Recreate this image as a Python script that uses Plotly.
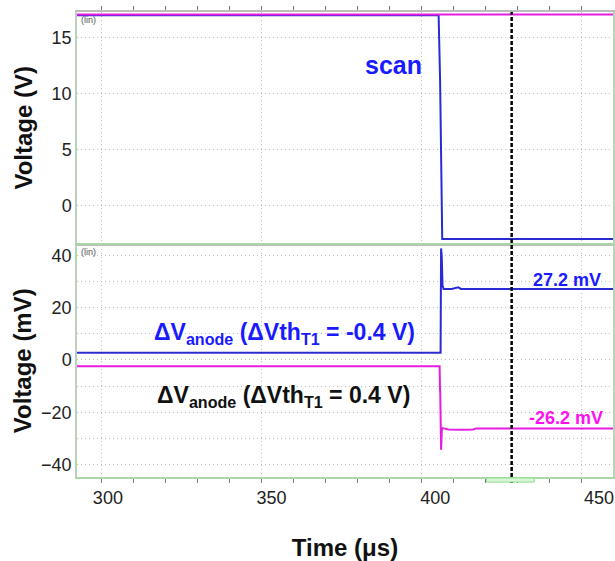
import plotly.graph_objects as go

# ---------------- data ----------------
# top panel: scan signal (V) and the constant reference level (V)
scan_t = [290.5, 401.0, 401.45, 401.75, 402.0, 402.1, 454.5]
scan_v = [17.0, 17.0, 11.2, 6.0, 0.5, -2.95, -2.95]
ref_t = [290.5, 454.5]
ref_v = [17.05, 17.05]

# bottom panel: anode voltage change (mV)
neg_t = [290.5, 401.6, 401.75, 401.95, 402.2, 402.5, 405.0, 406.5, 407.0, 407.8, 454.5]
neg_v = [2.8, 2.8, 42.7, 40.0, 28.5, 27.2, 27.2, 27.6, 27.8, 27.2, 27.2]
pos_t = [290.5, 401.3, 401.4, 401.5, 401.75, 401.85, 402.0, 402.3, 404.0, 408.0, 411.5, 412.5, 454.5]
pos_v = [-2.4, -2.4, -10.0, -12.6, -34.4, -30.0, -26.1, -26.1, -26.6, -26.7, -26.6, -26.2, -26.2]

x_tickvals = [300, 350, 400, 450]
top_tickvals = [0, 5, 10, 15]
bot_tickvals = [-40, -20, 0, 20, 40]
cursor_t = 423.3
marker_t = [415.6, 430.2]

# ---------------- styles ----------------
FONT = "Liberation Sans, Arial, sans-serif"
BLUE_L = "#2b2bd4"
MAG_L = "#e61ce0"
BLUE_T = "#1a1aff"
MAG_T = "#ff10f0"
GRID = "#bdbdbd"
GDASH = "1px,3px"
XR = [290.57, 454.25]
grid_tick0 = 298.0
grid_dtick = 48.85
minor_dtick = 9.77

fig = go.Figure()
fig.add_trace(go.Scatter(x=scan_t, y=scan_v, mode="lines", line=dict(color=BLUE_L, width=2),
                         xaxis="x", yaxis="y", showlegend=False))
fig.add_trace(go.Scatter(x=ref_t, y=ref_v, mode="lines", line=dict(color=MAG_L, width=2),
                         xaxis="x", yaxis="y", showlegend=False))
fig.add_trace(go.Scatter(x=neg_t, y=neg_v, mode="lines", line=dict(color=BLUE_L, width=2),
                         xaxis="x2", yaxis="y2", showlegend=False))
fig.add_trace(go.Scatter(x=pos_t, y=pos_v, mode="lines", line=dict(color=MAG_L, width=2),
                         xaxis="x2", yaxis="y2", showlegend=False))
fig.add_trace(go.Scatter(x=[], y=[], mode="lines", xaxis="x3", yaxis="y2",
                         showlegend=False, hoverinfo="skip"))

grid_x = dict(tick0=grid_tick0, dtick=grid_dtick, showgrid=True, gridcolor=GRID,
              griddash=GDASH, gridwidth=1, showticklabels=False,
              ticks="outside", ticklen=4, tickcolor="#777",
              minor=dict(dtick=minor_dtick, tick0=grid_tick0, ticks="outside", ticklen=4, tickcolor="#777"),
              range=XR, zeroline=False, showline=True, mirror=True)

fig.update_layout(
    width=615, height=561,
    margin=dict(l=77, r=0, t=12, b=84),
    paper_bgcolor="white", plot_bgcolor="white",
    font=dict(family=FONT, size=18, color="#222"),
    xaxis=dict(**grid_x, domain=[0, 1], anchor="y", side="top", linecolor="#bcbcbc", linewidth=1.5),
    xaxis2=dict(**grid_x, domain=[0, 1], anchor="y2", side="bottom", linecolor="#a8d8a8", linewidth=1.5),
    xaxis3=dict(overlaying="x2", anchor="y2", side="bottom", range=XR, tickvals=x_tickvals,
                ticks="", showgrid=False, showline=False, zeroline=False,
                tickfont=dict(size=18, color="#222"), ticklabelstandoff=8,
                title=dict(text="<b>Time (μs)</b>", font=dict(size=24, color="#111"), standoff=32)),
    yaxis=dict(domain=[0.502, 1], range=[-3.35, 17.28], tickvals=top_tickvals,
               showgrid=True, gridcolor=GRID, griddash=GDASH, zeroline=False,
               ticks="", showline=True, mirror=True, linecolor="#b8d4b8", linewidth=1.5,
               tickfont=dict(size=18, color="#222"),
               title=dict(text="<b>Voltage (V)</b>", font=dict(size=24, color="#111"), standoff=12)),
    yaxis2=dict(domain=[0, 0.5], range=[-44.8, 44.2], tickvals=bot_tickvals,
                showgrid=True, gridcolor=GRID, griddash=GDASH, zeroline=False,
                minor=dict(dtick=10, showgrid=True, gridcolor=GRID, griddash=GDASH),
                ticks="", showline=True, mirror=True, linecolor="#b8d4b8", linewidth=1.5,
                tickfont=dict(size=18, color="#222"),
                title=dict(text="<b>Voltage (mV)</b>", font=dict(size=24, color="#111"), standoff=3)),
)

# cursor line spanning both panels and its marker
fig.add_shape(type="line", xref="x", yref="paper", x0=cursor_t, x1=cursor_t, y0=-0.013, y1=1.0,
              line=dict(color="black", width=2.5, dash="4px,2px"))
fig.add_shape(type="rect", xref="x2", yref="paper", x0=marker_t[0], x1=marker_t[1], y0=-0.011, y1=-0.002,
              line=dict(color="#8fdc8f", width=1), fillcolor="#d8f5d8")

ann = [
    dict(x=387.3, y=12.6, xref="x", yref="y", text="<b>scan</b>", xanchor="center", yanchor="middle",
         font=dict(size=25, color=BLUE_T)),
    dict(x=451.2, y=30.8, xref="x2", yref="y2", text="<b>27.2 mV</b>", xanchor="right", yanchor="middle",
         font=dict(size=18, color=BLUE_T)),
    dict(x=451.8, y=-22.2, xref="x2", yref="y2", text="<b>-26.2 mV</b>", xanchor="right", yanchor="middle",
         font=dict(size=18, color=MAG_T)),
    dict(x=313.5, y=10.0, xref="x2", yref="y2",
         text="<b>ΔV<sub>anode</sub> (ΔVth<sub>T1</sub> = -0.4 V)</b>", xanchor="left", yanchor="middle",
         font=dict(size=23, color=BLUE_T)),
    dict(x=314.5, y=-14.0, xref="x2", yref="y2",
         text="<b>ΔV<sub>anode</sub> (ΔVth<sub>T1</sub> = 0.4 V)</b>", xanchor="left", yanchor="middle",
         font=dict(size=23, color="#111")),
    dict(x=0.003, y=0.998, xref="paper", yref="paper", text="(lin)", xanchor="left", yanchor="top",
         font=dict(size=9, color="#555"), showarrow=False),
    dict(x=0.003, y=0.498, xref="paper", yref="paper", text="(lin)", xanchor="left", yanchor="top",
         font=dict(size=9, color="#555"), showarrow=False),
]
for a in ann:
    a.setdefault("showarrow", False)
    fig.add_annotation(**a)

fig.write_html("out.html")
